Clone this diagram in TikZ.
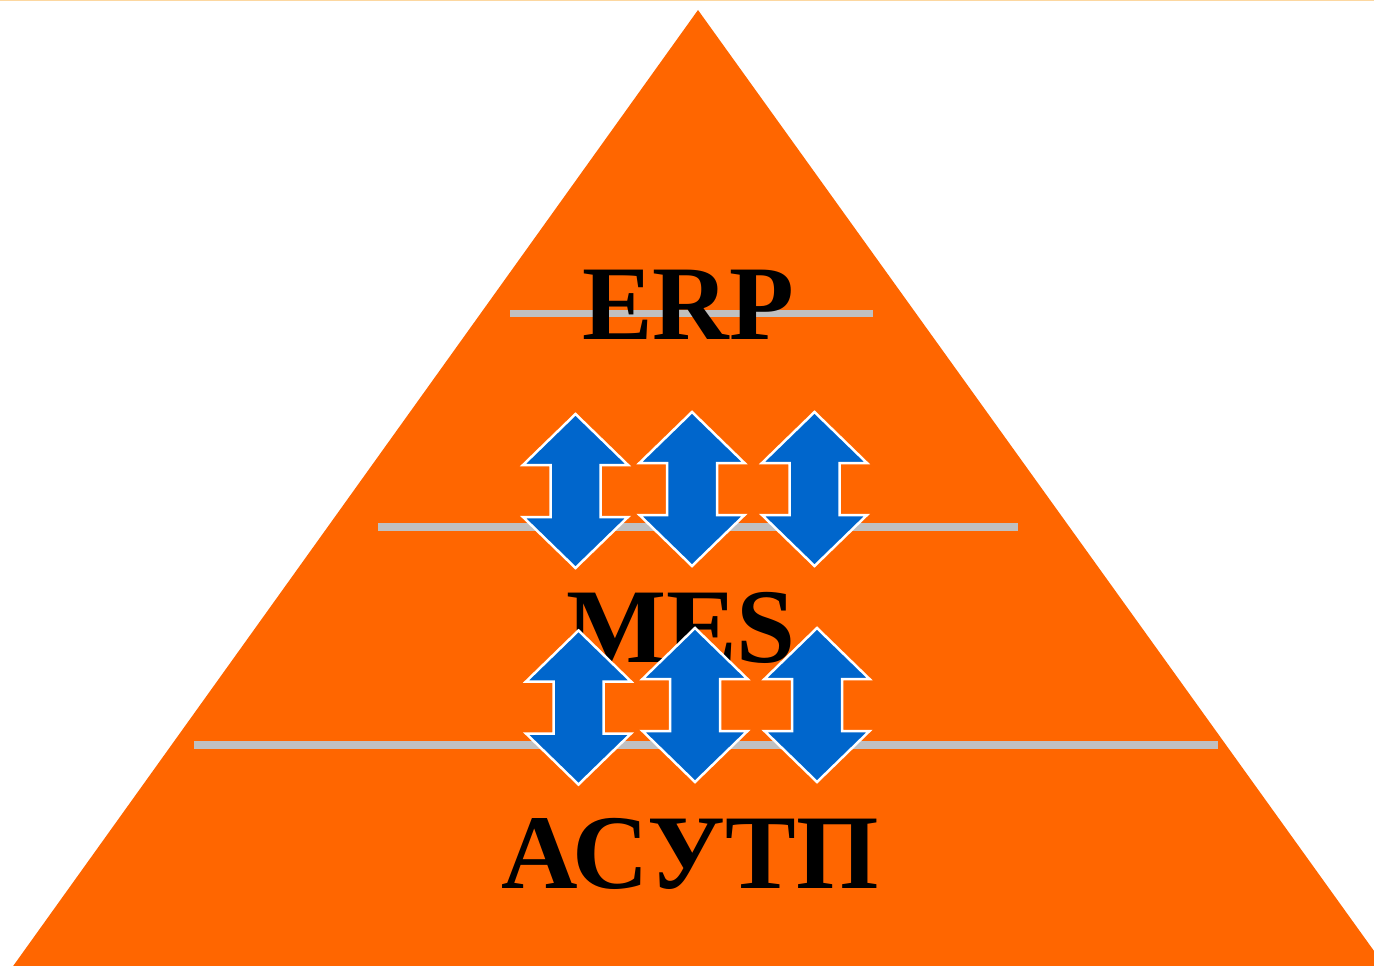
\documentclass[tikz,border=0pt]{standalone}
\usepackage{fontspec}
\setmainfont{Liberation Serif}
\definecolor{pyrorange}{RGB}{255,102,0}
\definecolor{arrblue}{RGB}{0,102,204}
\definecolor{linegray}{RGB}{192,192,192}
\definecolor{topline}{RGB}{252,215,160}
\tikzset{
  levelline/.style={draw=linegray, line width=7.5pt},
  leveltext/.style={anchor=base, inner sep=0pt, font=\fontsize{106}{106}\selectfont\bfseries, text=black},
  pics/udarrow/.style={code={
    \filldraw[fill=arrblue, draw=white, line width=2.5pt, line join=miter]
      (0,-77) -- (52.5,-26) -- (25,-26) -- (25,26) -- (52.5,26) -- (0,77)
      -- (-52.5,26) -- (-25,26) -- (-25,-26) -- (-52.5,-26) -- cycle;
  }}
}
\begin{document}
\begin{tikzpicture}[x=1pt,y=-1pt]
\useasboundingbox (0,0) rectangle (1374,966);
\fill[white] (0,0) rectangle (1374,966);
\begin{scope}
\clip (0,0) rectangle (1374,966);
\fill[pyrorange] (698,10) -- (1392,976) -- (6,976) -- cycle;
\end{scope}
\draw[topline, line width=2pt] (0,0.5) -- (1374,0.5);
% level lines
\coordinate (l1a) at (510,313.5); \coordinate (l1b) at (873,313.5);
\coordinate (l2a) at (378,527); \coordinate (l2b) at (1018,527);
\coordinate (l3a) at (194,745); \coordinate (l3b) at (1218,745);
\draw[levelline] (l1a) -- (l1b);
\draw[levelline] (l2a) -- (l2b);
\draw[levelline] (l3a) -- (l3b);
% labels
\node[leveltext] (erp) at (688,339) {ERP};
\node[leveltext] (mes) at (681,662) {MES};
\node[leveltext] (asutp) at (690,888) {АСУТП};
% arrows
\pic at (575.5,491) {udarrow};
\pic at (692,489) {udarrow};
\pic at (814.5,489) {udarrow};
\pic at (578.5,707.5) {udarrow};
\pic at (695,705) {udarrow};
\pic at (817,705) {udarrow};
\end{tikzpicture}
\end{document}
